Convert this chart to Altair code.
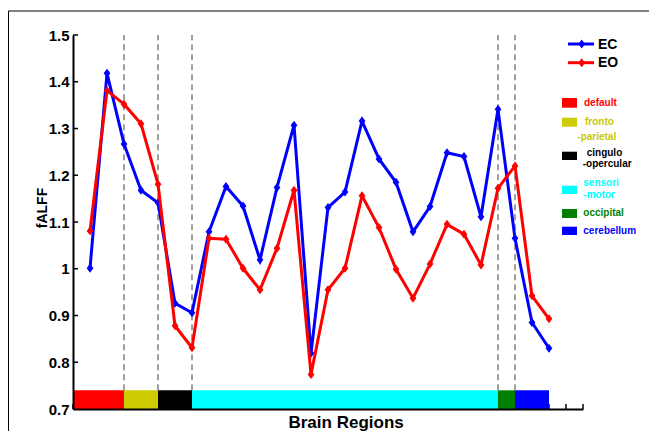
import altair as alt
import pandas as pd

# ---------------- data ----------------
region_idx = list(range(1, 29))
ec_values = [1.001, 1.418, 1.267, 1.168, 1.141, 0.926, 0.906, 1.079, 1.176, 1.134,
             1.019, 1.174, 1.307, 0.819, 1.131, 1.164, 1.316, 1.235, 1.185, 1.079,
             1.133, 1.248, 1.240, 1.111, 1.341, 1.065, 0.885, 0.830]
eo_values = [1.081, 1.381, 1.352, 1.310, 1.181, 0.878, 0.831, 1.065, 1.063, 1.001,
             0.955, 1.044, 1.168, 0.774, 0.955, 1.001, 1.156, 1.088, 0.999, 0.937,
             1.010, 1.095, 1.074, 1.008, 1.172, 1.220, 0.942, 0.893]
series_names = ["EC", "EO"]
series_colors = ["#0000ff", "#ff0000"]

network_names = ["default", "fronto-parietal", "cingulo-opercular",
                 "sensori-motor", "occipital", "cerebellum"]
network_start = [0, 3, 5, 7, 25, 26]
network_end = [3, 5, 7, 25, 26, 28]
network_colors = ["#ff0000", "#cccc00", "#000000", "#00ffff", "#008000", "#0000ff"]
network_text_colors = ["#ff0000", "#c8c800", "#000000", "#00ffff", "#008000", "#0000ff"]
network_label_lines = [["default"], ["fronto", "-parietal"], ["cingulo", "-opercular"],
                       ["sensori", "-motor"], ["occipital"], ["cerebellum"]]
boundaries = [3, 5, 7, 25, 26]

y_ticks = [0.7, 0.8, 0.9, 1.0, 1.1, 1.2, 1.3, 1.4, 1.5]
x_ticks = list(range(0, 31))
bar_bottom, bar_top = 0.7, 0.74

# ---------------- layout / style ----------------
FONT = "Liberation Sans"
W, H = 510, 374

df = pd.DataFrame({
    "idx": region_idx * 2,
    "value": ec_values + eo_values,
    "series": ["EC"] * len(ec_values) + ["EO"] * len(eo_values),
})
net_df = pd.DataFrame({"name": network_names, "start": network_start, "end": network_end})
bound_df = pd.DataFrame({"b": boundaries})
yt_df = pd.DataFrame({"yt": y_ticks})
xt_df = pd.DataFrame({"xt": x_ticks})

XS = alt.Scale(domain=[0, 30], nice=False, zero=False)
YS = alt.Scale(domain=[0.7, 1.5], nice=False, zero=False)

X_AX = alt.Axis(ticks=False, labels=False, grid=False, domainColor="black", domainWidth=2,
                title="Brain Regions", titleFont=FONT, titleFontSize=17, titleFontWeight="bold",
                titleColor="black", titleX=272.6, titleY=18.3, titleAlign="center",
                titleBaseline="alphabetic", zindex=1)
Y_AX = alt.Axis(values=y_ticks, format=".1~f", ticks=False, tickSize=0, grid=False,
                labelFont=FONT, labelFontSize=15, labelFontWeight="bold", labelColor="black",
                labelPadding=4, domainColor="black", domainWidth=2,
                title="fALFF", titleFont=FONT, titleFontSize=14, titleFontWeight="bold",
                titleColor="black", titleAngle=270, titleX=-27, titleY=172.5,
                titleAlign="center", titleBaseline="alphabetic", zindex=1)

DIAMOND = "M0,-1.2L0.9,0L0,1.2L-0.9,0Z"

layers = []

# inward x ticks (mostly hidden under the region bar)
layers.append(alt.Chart(xt_df).mark_rule(color="black", strokeWidth=1.5).encode(
    x=alt.X("xt:Q", scale=XS, axis=X_AX),
    y=alt.value(H), y2=alt.value(H - 5)))

# inward y ticks
layers.append(alt.Chart(yt_df).mark_rule(color="black", strokeWidth=1.5).encode(
    y=alt.Y("yt:Q", scale=YS, axis=Y_AX),
    x=alt.value(0), x2=alt.value(5)))

# region colour bar
layers.append(alt.Chart(net_df).mark_rect().encode(
    x=alt.X("start:Q", scale=XS, axis=X_AX), x2="end:Q",
    y=alt.YDatum(bar_bottom, scale=YS, axis=Y_AX), y2=alt.Y2Datum(bar_top),
    color=alt.Color("name:N", scale=alt.Scale(domain=network_names, range=network_colors),
                    legend=None)))

# dashed boundaries
layers.append(alt.Chart(bound_df).mark_rule(color="#808080", strokeWidth=1.5,
                                             strokeDash=[6, 4]).encode(
    x=alt.X("b:Q", scale=XS, axis=X_AX),
    y=alt.YDatum(bar_top, scale=YS, axis=Y_AX), y2=alt.Y2Datum(1.5)))

# series lines + markers
for name, col in zip(series_names, series_colors):
    base = alt.Chart(df).transform_filter(alt.datum.series == name)
    layers.append(base.mark_line(color=col, strokeWidth=3).encode(
        x=alt.X("idx:Q", scale=XS, axis=X_AX),
        y=alt.Y("value:Q", scale=YS, axis=Y_AX)))
    layers.append(base.mark_point(shape=DIAMOND, filled=True, color=col, opacity=1,
                                  size=56).encode(
        x=alt.X("idx:Q", scale=XS, axis=X_AX),
        y=alt.Y("value:Q", scale=YS, axis=Y_AX)))

# ---- legend for series ----
def one_row(label=""):
    return alt.Chart(pd.DataFrame({"t": [label]}))

leg_y = [9, 27.7]
for name, col, ly in zip(series_names, series_colors, leg_y):
    layers.append(one_row().mark_rule(color=col, strokeWidth=3).encode(
        x=alt.value(495), x2=alt.value(521), y=alt.value(ly)))
    layers.append(one_row().mark_point(shape=DIAMOND, filled=True, color=col, opacity=1,
                                       size=56).encode(x=alt.value(508.7), y=alt.value(ly)))
    layers.append(one_row(name).mark_text(align="left", baseline="middle", font=FONT,
                                          fontSize=14, fontWeight="bold", color="black").encode(
        x=alt.value(525), y=alt.value(ly + 0.5), text="t:N"))

# ---- legend for networks ----
box_y = [(63, 72.7), (82.7, 91.7), (116.7, 125), (150.7, 159), (174, 183), (191.7, 200)]
text_pos = [[(511, 67.7)], [(512, 86.7), (504.3, 102.3)], [(513.7, 117.7), (509.7, 129)],
            [(510.3, 148.3), (510.3, 160)], [(510.3, 177.7)], [(510.3, 195.7)]]
for i in range(len(network_names)):
    y0, y1 = box_y[i]
    layers.append(one_row().mark_rect(color=network_colors[i]).encode(
        x=alt.value(489), x2=alt.value(504), y=alt.value(y0), y2=alt.value(y1)))
    for line, (tx, ty) in zip(network_label_lines[i], text_pos[i]):
        layers.append(one_row(line).mark_text(align="left", baseline="middle", font=FONT,
                                              fontSize=10, fontWeight="bold",
                                              color=network_text_colors[i]).encode(
            x=alt.value(tx), y=alt.value(ty), text="t:N"))

# figure frame (left and top edges)
layers.append(one_row().mark_rule(color="black", strokeWidth=1).encode(
    x=alt.value(-64.5), y=alt.value(-24), y2=alt.value(420)))
layers.append(one_row().mark_rule(color="black", strokeWidth=1).encode(
    x=alt.value(-64.5), x2=alt.value(620), y=alt.value(-24)))

chart = alt.layer(*layers).properties(
    width=W, height=H,
    autosize=alt.AutoSizeParams(type="none"),
    padding={"left": 65, "top": 27, "right": 66, "bottom": 22},
    background="white",
).configure_view(stroke=None)

chart.save("out.html", embed_options={"renderer": "svg", "actions": False})
